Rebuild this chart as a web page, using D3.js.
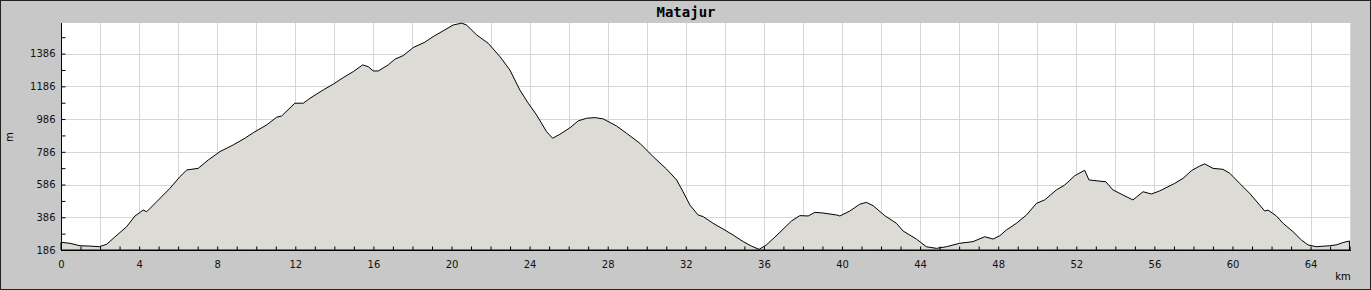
<!DOCTYPE html>
<meta charset="utf-8">
<style>
    body { margin: 0; background: #fff; }
    text { font-family: "DejaVu Sans", sans-serif; }
</style>
<body>
    <!-- load the d3.js library -->
    <script src="https://d3js.org/d3.v7.min.js"></script>

    <script>
        // profile data: distance (km) and elevation (m)
        let title = "Matajur";
        let distanceKm = [0, 0.46, 0.97, 1.48, 1.96, 2.34, 2.77, 3.36, 3.79, 4.21, 4.39, 4.9, 5.58, 6.09, 6.44, 7.03, 7.54, 8.14, 8.82, 9.42, 9.85, 10.53, 11.04, 11.3, 11.98, 12.41, 12.75, 13.43, 13.94, 14.45, 14.97, 15.45, 15.74, 15.99, 16.25, 16.76, 17.1, 17.53, 18.04, 18.64, 19.06, 19.57, 20.09, 20.52, 20.77, 21.29, 21.88, 22.48, 22.99, 23.5, 23.93, 24.36, 24.87, 25.18, 25.55, 26.06, 26.49, 26.92, 27.34, 27.77, 28.45, 28.97, 29.65, 30.33, 31.01, 31.53, 31.86, 32.21, 32.63, 32.89, 33.4, 33.91, 34.42, 34.94, 35.36, 35.75, 36.13, 36.82, 37.41, 37.84, 38.27, 38.61, 39.03, 39.72, 39.89, 40.4, 40.91, 41.25, 41.59, 42.19, 42.79, 43.13, 43.81, 44.32, 44.84, 45.35, 46.03, 46.71, 47.31, 47.74, 48.08, 48.42, 48.93, 49.45, 49.96, 50.38, 50.98, 51.41, 51.92, 52.43, 52.65, 53.11, 53.51, 53.88, 54.39, 54.9, 55.42, 55.85, 56.27, 56.44, 57.04, 57.47, 57.9, 58.32, 58.58, 59.0, 59.51, 59.86, 60.37, 60.88, 61.39, 61.65, 61.82, 62.25, 62.59, 63.1, 63.53, 63.87, 64.29, 64.97, 65.31, 65.65, 65.99];
        let elevationM = [233, 227, 212, 210, 206, 221, 267, 328, 394, 430, 420, 481, 563, 634, 675, 685, 736, 787, 828, 869, 903, 950, 997, 1005, 1083, 1083, 1113, 1164, 1199, 1239, 1276, 1317, 1306, 1280, 1280, 1317, 1352, 1374, 1423, 1456, 1490, 1525, 1561, 1572, 1561, 1500, 1449, 1368, 1286, 1164, 1083, 1011, 909, 869, 893, 932, 975, 991, 995, 987, 944, 899, 838, 756, 681, 614, 542, 461, 400, 390, 349, 314, 278, 237, 210, 190, 217, 294, 363, 396, 394, 416, 412, 400, 394, 424, 466, 477, 457, 396, 349, 302, 253, 206, 196, 206, 227, 237, 267, 253, 273, 308, 349, 400, 471, 492, 553, 583, 640, 673, 614, 608, 603, 553, 522, 492, 542, 528, 547, 557, 593, 624, 671, 699, 712, 685, 679, 655, 593, 532, 461, 424, 430, 394, 349, 298, 247, 217, 206, 212, 217, 231, 241];

        // axis ticks
        let xLabelTicks = [0, 4, 8, 12, 16, 20, 24, 28, 32, 36, 40, 44, 48, 52, 56, 60, 64];
        let yLabelTicks = [186, 386, 586, 786, 986, 1186, 1386];
        let xDomain = [0, 66.07];
        let yDomain = [186, 1573];

        let width = 1371;
        let height = 290;
        let plot = { left: 61, right: 1351, top: 23, bottom: 250 };

        let data = distanceKm.map((d, i) => ({ km: d, m: elevationM[i] }));

        let svg = d3.select("body").append("svg")
            .attr("width", width)
            .attr("height", height);

        // grey background with dark frame
        svg.append("rect")
            .attr("x", 0.5).attr("y", 0.5)
            .attr("width", width - 1).attr("height", height - 1)
            .attr("fill", "#c8c8c8")
            .attr("stroke", "#222");

        // white plotting area
        svg.append("rect")
            .attr("x", plot.left).attr("y", plot.top)
            .attr("width", plot.right - plot.left)
            .attr("height", plot.bottom - plot.top)
            .attr("fill", "#fff");

        let x = d3.scaleLinear().domain(xDomain).range([plot.left, plot.right]);
        let y = d3.scaleLinear().domain(yDomain).range([plot.bottom, plot.top]);

        // grid
        let grid = svg.append("g").attr("stroke", "#d6d6d6").attr("stroke-width", 1);
        grid.selectAll(".vg")
            .data(d3.range(2, 67, 2))
            .join("line")
            .attr("x1", d => Math.round(x(d)) + 0.5)
            .attr("x2", d => Math.round(x(d)) + 0.5)
            .attr("y1", plot.top)
            .attr("y2", plot.bottom);
        grid.selectAll(".hg")
            .data(yLabelTicks.slice(1))
            .join("line")
            .attr("x1", plot.left)
            .attr("x2", plot.right)
            .attr("y1", d => Math.round(y(d)) + 0.5)
            .attr("y2", d => Math.round(y(d)) + 0.5);

        // elevation area
        let area = d3.area()
            .x(d => x(d.km))
            .y0(y(yDomain[0]))
            .y1(d => y(d.m));

        svg.append("path")
            .datum(data)
            .attr("d", area)
            .attr("fill", "#dcdbd6")
            .attr("stroke", "#000")
            .attr("stroke-width", 1);

        // axes (ticks point inwards)
        let xAxis = d3.axisBottom(x)
            .tickValues(d3.range(0, 67, 1))
            .tickSize(-4)
            .tickFormat(d => xLabelTicks.includes(d) ? d : "");
        let gx = svg.append("g")
            .attr("transform", "translate(0," + (plot.bottom + 0.5) + ")")
            .call(xAxis);
        gx.select(".domain").attr("d", "M" + plot.left + ",0H" + plot.right);
        gx.selectAll(".tick text").attr("dy", "1.0em").attr("y", 7);

        let yAxis = d3.axisLeft(y)
            .tickValues(d3.range(186, 1573, 100))
            .tickSize(-4)
            .tickFormat(d => yLabelTicks.includes(d) ? d : "");
        let gy = svg.append("g")
            .attr("transform", "translate(" + (plot.left + 0.5) + ",0)")
            .call(yAxis);
        gy.select(".domain").attr("d", "M0," + plot.top + "V" + plot.bottom);
        gy.selectAll(".tick text").attr("x", -6);

        svg.selectAll(".tick text")
            .attr("font-family", "DejaVu Sans, sans-serif")
            .attr("font-size", 10)
            .attr("fill", "#111");

        // title and axis names
        svg.append("text")
            .attr("x", 686).attr("y", 17)
            .attr("text-anchor", "middle")
            .style("font-family", "DejaVu Sans Mono, monospace")
            .style("font-weight", "bold")
            .style("font-size", "14px")
            .text(title);

        svg.append("text")
            .attr("transform", "translate(13,137) rotate(-90)")
            .attr("text-anchor", "middle")
            .style("font-size", "10px")
            .text("m");

        svg.append("text")
            .attr("x", 1343).attr("y", 280)
            .attr("text-anchor", "middle")
            .style("font-size", "10px")
            .text("km");
    </script>
</body>
